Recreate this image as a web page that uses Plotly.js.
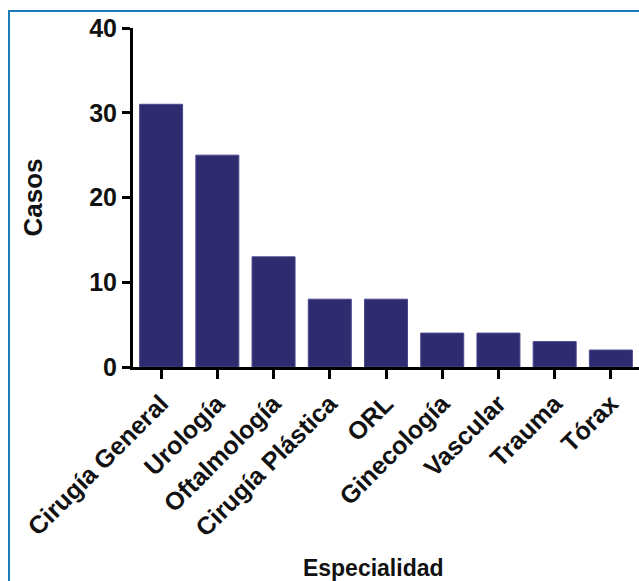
<!DOCTYPE html>
<html>
<head>
<meta charset="utf-8">
<script src="https://cdn.plot.ly/plotly-3.0.1.min.js"></script>
<style>
  html, body { margin: 0; padding: 0; background: #fff; }
  #wrap { position: relative; width: 639px; height: 581px; overflow: hidden; }
  #chart { position: absolute; left: 0; top: 0; width: 639px; height: 581px; }
  #frame { position: absolute; left: 8px; top: 10px; width: 700px; height: 700px;
           border-top: 2px solid #1b7fb6; border-left: 2px solid #1b7fb6; pointer-events: none; }
</style>
</head>
<body>
<div id="wrap">
  <div id="chart"></div>
  <div id="frame"></div>
</div>
<script>
const categories = ["Cirugía General", "Urología", "Oftalmología", "Cirugía Plástica", "ORL", "Ginecología", "Vascular", "Trauma", "Tórax"];
const casos = [31, 25, 13, 8, 8, 4, 4, 3, 2];
const yTicks = [0, 10, 20, 30, 40];

const font = "Liberation Sans, Arial, sans-serif";

const trace = {
  type: "bar",
  x: categories,
  y: casos,
  marker: { color: "#2e2c6f", line: { width: 1, color: "#4a4890" } },
  hoverinfo: "x+y"
};

const layout = {
  width: 639,
  height: 581,
  margin: { l: 133, r: 0, t: 28, b: 214 },
  paper_bgcolor: "rgba(0,0,0,0)",
  plot_bgcolor: "rgba(0,0,0,0)",
  showlegend: false,
  bargap: 0.235,
  font: { family: font, color: "#111", size: 21 },
  xaxis: {
    type: "category",
    range: [-0.5, 8.5],
    showline: true, linecolor: "#000", linewidth: 3,
    ticks: "outside", ticklen: 9, tickwidth: 3, tickcolor: "#000",
    tickangle: -45,
    tickfont: { family: font, size: 25, weight: "bold", color: "#111" },
    showgrid: false, zeroline: false,
    automargin: false,
    title: { text: "<b>Especialidad</b>&nbsp;&nbsp;&nbsp;&nbsp;", font: { family: font, size: 23, color: "#111" }, standoff: 26 }
  },
  yaxis: {
    range: [0, 40],
    tickvals: yTicks,
    showline: true, linecolor: "#000", linewidth: 3,
    ticks: "outside", ticklen: 8, tickwidth: 3, tickcolor: "#000",
    tickfont: { family: font, size: 25, weight: "bold", color: "#111" },
    showgrid: false, zeroline: false,
    automargin: false,
    title: { text: "<b>Casos</b>", font: { family: font, size: 26, color: "#111" }, standoff: 40 }
  }
};

Plotly.newPlot("chart", [trace], layout, { displayModeBar: false, staticPlot: true });
</script>
</body>
</html>
